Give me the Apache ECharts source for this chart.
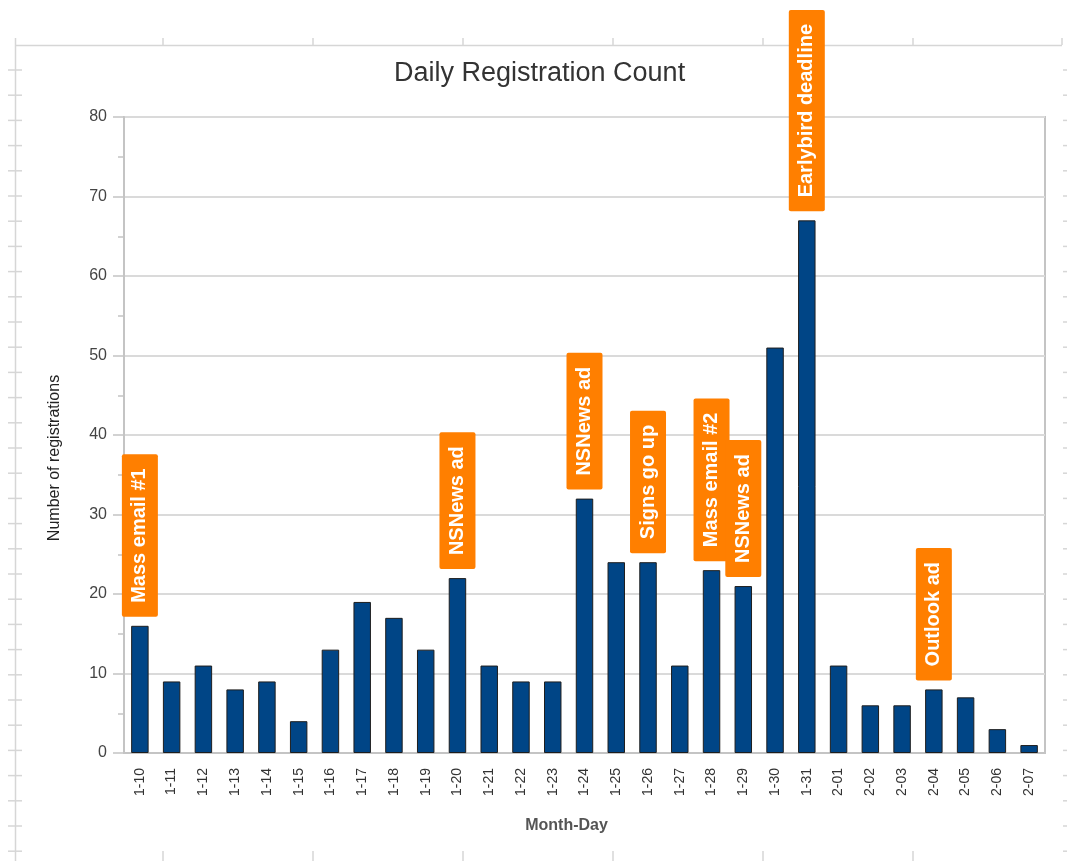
<!DOCTYPE html>
<html>
<head>
<meta charset="utf-8">
<title>Daily Registration Count</title>
<script src="https://cdn.jsdelivr.net/npm/echarts@6/dist/echarts.min.js"></script>
<style>
  html, body { margin: 0; padding: 0; background: #fff; }
  #chart { width: 1067px; height: 861px; }
</style>
</head>
<body>
<div id="chart"></div>
<script>
// data
const days = [
  "1-10", "1-11", "1-12", "1-13", "1-14", "1-15", "1-16", "1-17", "1-18", "1-19",
  "1-20", "1-21", "1-22", "1-23", "1-24", "1-25", "1-26", "1-27", "1-28", "1-29",
  "1-30", "1-31", "2-01", "2-02", "2-03", "2-04", "2-05", "2-06", "2-07",
];
const registrations = [
  16, 9, 11, 8, 9, 4, 13, 19, 17, 13,
  22, 11, 9, 9, 32, 24, 24, 11, 23, 21,
  51, 67, 11, 6, 6, 8, 7, 3, 1,
];
// event notes, keyed by day
const events = {
  "1-10": "Mass email #1",
  "1-20": "NSNews ad",
  "1-24": "NSNews ad",
  "1-26": "Signs go up",
  "1-28": "Mass email #2",
  "1-29": "NSNews ad",
  "1-31": "Earlybird deadline",
  "2-04": "Outlook ad",
};
const yTicks = [0, 10, 20, 30, 40, 50, 60, 70, 80];

const BLUE = "#004586";
const ORANGE = "#ff7f00";
const AXIS_GRAY = "#c4c4c4";
const GRID_GRAY = "#dadada";
const RULER = "#d6d6d6";

const eventLabel = {
  show: true,
  position: "top",
  distance: 9,
  rotate: 90,
  align: "left",
  verticalAlign: "middle",
  color: "#fff",
  fontFamily: "Liberation Sans, Arial, sans-serif",
  fontWeight: "bold",
  fontSize: 20,
  lineHeight: 20,
  backgroundColor: ORANGE,
  borderRadius: 2,
  padding: [8, 14, 8, 14],
  formatter: (p) => events[p.name],
};

const barData = registrations.map((v, i) =>
  events[days[i]] ? { value: v, label: eventLabel } : v,
);

// spreadsheet ruler marks around the page (decoration only)
const ruler = [];
const line = (x1, y1, x2, y2) =>
  ruler.push({
    type: "line",
    silent: true,
    shape: { x1, y1, x2, y2 },
    style: { stroke: RULER, lineWidth: 1.5 },
  });
line(15, 45.5, 1062, 45.5);
line(15.5, 38, 15.5, 861);
for (let x = 163; x < 1060; x += 150) {
  line(x, 38, x, 45);
  line(x, 851, x, 861);
}
line(1062, 38, 1062, 45);
for (let y = 70; y < 861; y += 25.2) {
  line(8, y, 22, y);
  line(1063, y, 1067, y);
}

const chart = echarts.init(document.getElementById("chart"));
chart.setOption({
  backgroundColor: "#fff",
  animation: false,
  textStyle: { fontFamily: "Liberation Sans, Arial, sans-serif" },
  graphic: ruler,
  title: {
    text: "Daily Registration Count",
    left: 394,
    top: 60,
    padding: 0,
    textStyle: { fontSize: 27, fontWeight: "normal", color: "#333" },
  },
  grid: {
    left: 124,
    right: 22,
    top: 117,
    bottom: 108,
    show: true,
    borderColor: AXIS_GRAY,
    borderWidth: 2,
  },
  xAxis: {
    type: "category",
    data: days,
    name: "Month-Day",
    nameLocation: "middle",
    nameGap: 65,
    nameTextStyle: {
      fontSize: 16,
      fontWeight: "bold",
      color: "#555",
      padding: [0, 36, 0, 0],
    },
    axisLine: { lineStyle: { color: AXIS_GRAY, width: 2 } },
    axisTick: { length: 7, lineStyle: { color: AXIS_GRAY, width: 1.5 } },
    axisLabel: {
      rotate: 90,
      interval: 0,
      margin: 15,
      fontSize: 14,
      color: "#333",
    },
  },
  yAxis: {
    type: "value",
    min: 0,
    max: yTicks[yTicks.length - 1],
    interval: yTicks[1] - yTicks[0],
    name: "Number of registrations",
    nameLocation: "middle",
    nameGap: 61,
    nameTextStyle: {
      fontSize: 16,
      color: "#222",
      padding: [0, 46, 0, 0],
    },
    axisLine: { show: true, lineStyle: { color: AXIS_GRAY, width: 2 } },
    axisTick: { show: true, length: 11, lineStyle: { color: AXIS_GRAY, width: 1.5 } },
    minorTick: { show: true, splitNumber: 2, length: 6, lineStyle: { color: AXIS_GRAY, width: 1.5 } },
    axisLabel: { margin: 17, fontSize: 16, color: "#444" },
    splitLine: { lineStyle: { color: GRID_GRAY, width: 2 } },
  },
  series: [
    {
      type: "bar",
      data: barData,
      barWidth: "55%",
      itemStyle: { color: BLUE, borderColor: "#1e1e1e", borderWidth: 1 },
    },
  ],
});
</script>
</body>
</html>
